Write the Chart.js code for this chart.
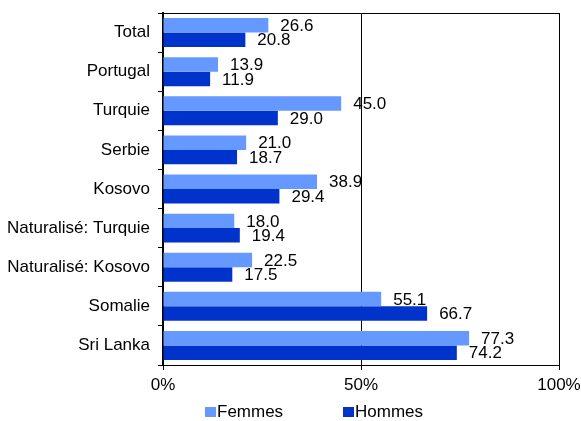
<!DOCTYPE html>
<html>
<head>
<meta charset="utf-8">
<script src="https://cdn.jsdelivr.net/npm/chart.js@4"></script>
<style>
  html, body { margin: 0; padding: 0; background: #fff; }
  #wrap { width: 581px; height: 421px; }
</style>
</head>
<body>
<div id="wrap"><canvas id="chart" width="581" height="421"></canvas></div>
<script>
// Chart data
const categories = ['Total', 'Portugal', 'Turquie', 'Serbie', 'Kosovo', 'Naturalisé: Turquie', 'Naturalisé: Kosovo', 'Somalie', 'Sri Lanka'];
const femmes = [26.6, 13.9, 45.0, 21.0, 38.9, 18.0, 22.5, 55.1, 77.3];
const hommes = [20.8, 11.9, 29.0, 18.7, 29.4, 19.4, 17.5, 66.7, 74.2];
const xTicks = [0, 50, 100];

const FONT = "'Liberation Sans', Arial, sans-serif";
const FSIZE = 17;

// value labels right of each bar end
const valueLabels = {
  id: 'valueLabels',
  afterDatasetsDraw(chart) {
    const ctx = chart.ctx;
    ctx.save();
    ctx.font = FSIZE + 'px ' + FONT;
    ctx.fillStyle = '#000';
    ctx.textAlign = 'left';
    ctx.textBaseline = 'middle';
    chart.data.datasets.forEach((ds, i) => {
      chart.getDatasetMeta(i).data.forEach((bar, j) => {
        ctx.fillText(ds.data[j].toFixed(1), bar.x + 12, bar.y + 1);
      });
    });
    ctx.restore();
  }
};

// top border of the plot frame + custom legend
const frameAndLegend = {
  id: 'frameAndLegend',
  afterDraw(chart) {
    const ctx = chart.ctx;
    const a = chart.chartArea;
    ctx.save();
    ctx.strokeStyle = '#000';
    ctx.lineWidth = 1;
    ctx.beginPath();
    ctx.moveTo(a.left, a.top + 0.5);
    ctx.lineTo(a.right + 0.5, a.top + 0.5);
    ctx.stroke();

    const xs = [205, 343];
    ctx.font = FSIZE + 'px ' + FONT;
    ctx.textBaseline = 'middle';
    ctx.textAlign = 'left';
    chart.data.datasets.forEach((ds, i) => {
      ctx.fillStyle = ds.backgroundColor;
      ctx.fillRect(xs[i], 407, 11, 10);
      ctx.fillStyle = '#000';
      ctx.fillText(ds.label, xs[i] + 12, 412);
    });
    ctx.restore();
  }
};

new Chart(document.getElementById('chart'), {
  type: 'bar',
  data: {
    labels: categories,
    datasets: [{
      label: 'Femmes',
      data: femmes,
      backgroundColor: '#6699FF',
      categoryPercentage: 0.74,
      barPercentage: 1.0
    }, {
      label: 'Hommes',
      data: hommes,
      backgroundColor: '#0033CC',
      categoryPercentage: 0.74,
      barPercentage: 1.0
    }]
  },
  options: {
    indexAxis: 'y',
    responsive: false,
    animation: false,
    layout: { padding: { top: 13, right: 22, bottom: 0, left: 0 } },
    plugins: {
      legend: { display: false },
      tooltip: { enabled: false }
    },
    scales: {
      x: {
        min: 0,
        max: 100,
        afterBuildTicks: s => { s.ticks = xTicks.map(v => ({ value: v })); },
        afterFit: s => { s.height = 56; s.paddingLeft = 0; s.paddingRight = 0; },
        ticks: {
          color: '#000',
          font: { family: FONT, size: FSIZE },
          padding: 5,
          maxRotation: 0,
          callback: v => v + '%'
        },
        grid: { color: '#000', lineWidth: 1, tickLength: 5 },
        border: { color: '#000', width: 1 }
      },
      y: {
        afterFit: s => { s.width = 163; s.paddingTop = 0; s.paddingBottom = 0; },
        ticks: {
          color: '#000',
          font: { family: FONT, size: FSIZE },
          padding: 8
        },
        grid: { drawOnChartArea: false, color: '#000', tickLength: 5, offset: true },
        border: { color: '#000', width: 2 }
      }
    }
  },
  plugins: [valueLabels, frameAndLegend]
});
</script>
</body>
</html>
